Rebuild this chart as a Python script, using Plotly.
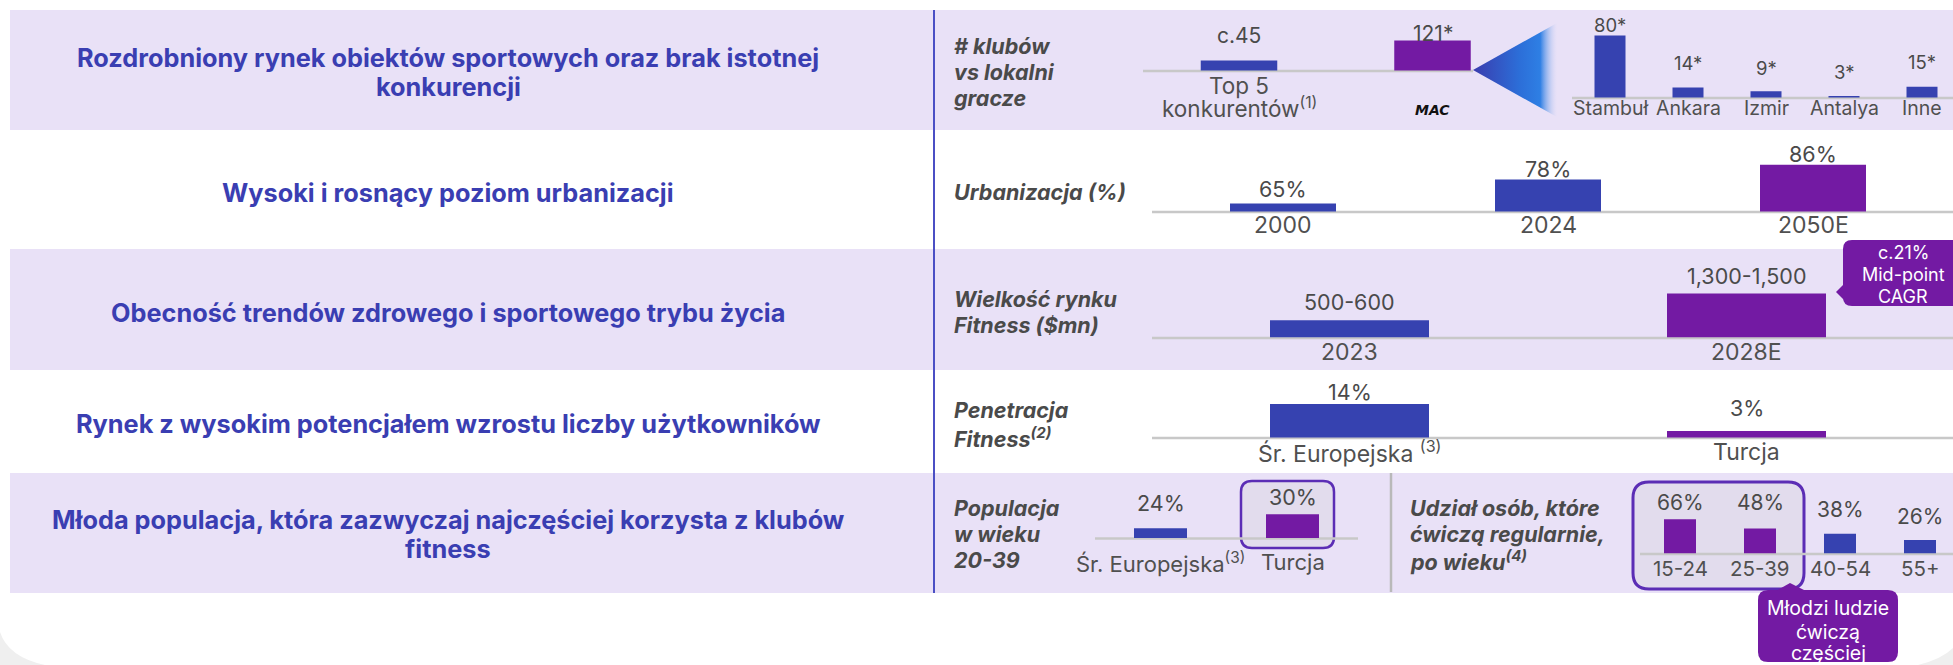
import plotly.graph_objects as go

W, H = 1953, 665

# ---------------- DATA ----------------
titles = [
    ["Rozdrobniony rynek obiektów sportowych oraz brak istotnej", "konkurencji"],
    ["Wysoki i rosnący poziom urbanizacji"],
    ["Obecność trendów zdrowego i sportowego trybu życia"],
    ["Rynek z wysokim potencjałem wzrostu liczby użytkowników"],
    ["Młoda populacja, która zazwyczaj najczęściej korzysta z klubów", "fitness"],
]
metric_names = [
    ["# klubów", "vs lokalni", "gracze"],
    ["Urbanizacja (%)"],
    ["Wielkość rynku", "Fitness ($mn)"],
    ["Penetracja", "Fitness<sup>(2)</sup>"],
    ["Populacja", "w wieku", "20-39"],
    ["Udział osób, które", "ćwiczą regularnie,", "po wieku<sup>(4)</sup>"],
]

club_cats = ["Top 5<br>konkurentów<sup>(1)</sup>", "MAC"]
club_vals = [45, 121]
club_labels = ["c.45", "121*"]

city_cats = ["Stambuł", "Ankara", "Izmir", "Antalya", "Inne"]
city_vals = [80, 14, 9, 3, 15]
city_labels = ["80*", "14*", "9*", "3*", "15*"]

urban_cats = ["2000", "2024", "2050E"]
urban_vals = [65, 78, 86]
urban_labels = ["65%", "78%", "86%"]

market_cats = ["2023", "2028E"]
market_vals = [550, 1400]
market_labels = ["500-600", "1,300-1,500"]

pen_cats = ["Śr. Europejska <sup>(3)</sup>", "Turcja"]
pen_vals = [14, 3]
pen_labels = ["14%", "3%"]

pop_cats = ["Śr. Europejska<sup>(3)</sup>", "Turcja"]
pop_vals = [24, 30]
pop_labels = ["24%", "30%"]

age_cats = ["15-24", "25-39", "40-54", "55+"]
age_vals = [66, 48, 38, 26]
age_labels = ["66%", "48%", "38%", "26%"]

cagr_note = ["c.21%", "Mid-point", "CAGR"]
young_note = ["Młodzi ludzie", "ćwiczą", "częściej"]

# ---------------- STYLE ----------------
BLUE = "#3642b0"
PURPLE = "#731aa3"
BAND = "#e9e1f7"
TITLE_C = "#3a3eb2"
GRAY_T = "#4a4a4a"
LINE_C = "#c8c8c8"
FONT = "Inter, Open Sans, sans-serif"


def px(x):
    return x / W


def py(y):
    return 1 - y / H


def rrect_path(x0, y0, x1, y1, r):
    pts = [
        ("M", [(x0 + r, y0)]), ("L", [(x1 - r, y0)]), ("Q", [(x1, y0), (x1, y0 + r)]),
        ("L", [(x1, y1 - r)]), ("Q", [(x1, y1), (x1 - r, y1)]), ("L", [(x0 + r, y1)]),
        ("Q", [(x0, y1), (x0, y1 - r)]), ("L", [(x0, y0 + r)]), ("Q", [(x0, y0), (x0 + r, y0)]),
    ]
    s = ""
    for cmd, ps in pts:
        s += cmd + " " + " ".join(f"{px(a):.6f},{py(b):.6f}" for a, b in ps) + " "
    return s + "Z"


def poly_path(points):
    s = "M " + " L ".join(f"{px(a):.6f},{py(b):.6f}" for a, b in points)
    return s + " Z"


shapes = []
annotations = []


def txt(x, y, text, size, color=GRAY_T, xanchor="center", family=FONT, **kw):
    annotations.append(dict(
        x=px(x), y=py(y), xref="paper", yref="paper", text=text, showarrow=False,
        xanchor=xanchor, yanchor="middle", font=dict(size=size, color=color, family=family), **kw))


# bands
for (y0, y1) in [(10, 130), (249, 370), (473, 593)]:
    shapes.append(dict(type="rect", xref="paper", yref="paper", x0=px(10), x1=1.01,
                       y0=py(y1), y1=py(y0), fillcolor=BAND, line=dict(width=0), layer="below"))

# bottom grey corners
shapes.append(dict(type="path", xref="paper", yref="paper", layer="below",
                   path=f"M {px(0)},{py(632)} Q {px(8)},{py(657)} {px(45)},{py(665)} L {px(0)},{py(665)} Z",
                   fillcolor="#efefef", line=dict(width=0)))
shapes.append(dict(type="path", xref="paper", yref="paper", layer="below",
                   path=f"M {px(1953)},{py(648)} Q {px(1942)},{py(659)} {px(1918)},{py(665)} L {px(1953)},{py(665)} Z",
                   fillcolor="#efefef", line=dict(width=0)))

# highlight boxes
shapes.append(dict(type="path", xref="paper", yref="paper", layer="below",
                   path=rrect_path(1241, 481, 1334, 548, 11), fillcolor="#e2dced",
                   line=dict(color="#5b2db5", width=2.5)))
shapes.append(dict(type="path", xref="paper", yref="paper", layer="below",
                   path=rrect_path(1633, 482, 1804, 589, 16), fillcolor="#e2dced",
                   line=dict(color="#5b2db5", width=3)))

# vertical divider lines
shapes.append(dict(type="line", xref="paper", yref="paper", x0=px(934), x1=px(934),
                   y0=py(10), y1=py(593), line=dict(color="#4b4fc4", width=2), layer="below"))
shapes.append(dict(type="line", xref="paper", yref="paper", x0=px(1391), x1=px(1391),
                   y0=py(473), y1=py(592), line=dict(color="#b9b9b9", width=2.5), layer="below"))

# titles
title_rows = [[57, 86], [193], [312], [423], [519, 548]]
for lines, ys in zip(titles, title_rows):
    for t, y in zip(lines, ys):
        txt(448, y, f"<b>{t}</b>", 25.3, TITLE_C)

# metric names
metric_pos = [(952, [46, 72, 98]), (952, [192]), (952, [299, 325]), (952, [410, 437]),
              (952, [508, 534, 560]), (1408, [508, 534, 560])]
for lines, (x, ys) in zip(metric_names, metric_pos):
    for t, y in zip(lines, ys):
        txt(x, y, f"<b><i>{t}</i></b>", 21.5, GRAY_T, xanchor="left")

# ---------------- BAR CHARTS ----------------
charts = [
    dict(cats=club_cats, vals=club_vals, labels=club_labels, colors=[BLUE, PURPLE],
         c0=1239, step=193.5, bw=76.5, base=70.5, top=10, k=0.263, v0=7,
         off=[25, 7], lx=(1143, 1473), caty=85, vsize=21, csize=22.5, lh=22),
    dict(cats=city_cats, vals=city_vals, labels=city_labels, colors=[BLUE] * 5,
         c0=1610, step=78, bw=31, base=97.5, top=12, k=0.787, v0=1.2,
         off=[10.5, 24, 23, 24, 25], lx=(1572, 1953), caty=108, vsize=18.5, csize=19.5, lh=22),
    dict(cats=urban_cats, vals=urban_vals, labels=urban_labels, colors=[BLUE, BLUE, PURPLE],
         c0=1283, step=265, bw=106, base=211.5, top=140, k=1.846, v0=60.7,
         off=[15, 11, 11], lx=(1152, 1953), caty=225, vsize=21.5, csize=23, lh=22),
    dict(cats=market_cats, vals=market_vals, labels=market_labels, colors=[BLUE, PURPLE],
         c0=1349.5, step=397, bw=159, base=337.5, top=260, k=0.0314, v0=0,
         off=[18, 18], lx=(1152, 1953), caty=352, vsize=21.5, csize=23, lh=22),
    dict(cats=pen_cats, vals=pen_vals, labels=pen_labels, colors=[BLUE, PURPLE],
         c0=1349.5, step=397, bw=159, base=437.5, top=380, k=2.45, v0=0.3,
         off=[12, 23], lx=(1152, 1953), caty=452, vsize=21.5, csize=23, lh=22),
    dict(cats=pop_cats, vals=pop_vals, labels=pop_labels, colors=[BLUE, PURPLE],
         c0=1160.5, step=132, bw=53, base=538, top=480, k=2.33, v0=19.8,
         off=[25, 17], lx=(1095, 1358), caty=562, vsize=21.5, csize=22, lh=22),
    dict(cats=age_cats, vals=age_vals, labels=age_labels, colors=[PURPLE, PURPLE, BLUE, BLUE],
         c0=1680, step=80, bw=32, base=553.5, top=490, k=0.52, v0=0,
         off=[17, 26, 24, 23], lx=(1640, 1953), caty=568, vsize=21, csize=20.5, lh=22),
]

fig = go.Figure()
layout_axes = {}
for i, ch in enumerate(charts, start=1):
    n = len(ch["vals"])
    xs = list(range(n))
    xa = "x" if i == 1 else f"x{i}"
    ya = "y" if i == 1 else f"y{i}"
    xkey = "xaxis" if i == 1 else f"xaxis{i}"
    ykey = "yaxis" if i == 1 else f"yaxis{i}"
    lx0, lx1 = ch["lx"]
    layout_axes[xkey] = dict(domain=[px(lx0), px(lx1)],
                             range=[(lx0 - ch["c0"]) / ch["step"], (lx1 - ch["c0"]) / ch["step"]],
                             visible=False, anchor=ya, fixedrange=True)
    layout_axes[ykey] = dict(domain=[py(ch["base"]), py(ch["top"])],
                             range=[ch["v0"], ch["v0"] + (ch["base"] - ch["top"]) / ch["k"]],
                             visible=False, anchor=xa, fixedrange=True)
    fig.add_trace(go.Bar(x=xs, y=ch["vals"], width=ch["bw"] / ch["step"],
                         marker=dict(color=ch["colors"], line=dict(width=0)),
                         xaxis=xa, yaxis=ya, hoverinfo="skip", showlegend=False))
    # baseline
    shapes.append(dict(type="line", xref="paper", yref="paper", x0=px(lx0), x1=px(lx1),
                       y0=py(ch["base"] + 0.5), y1=py(ch["base"] + 0.5),
                       line=dict(color=LINE_C, width=2.5), layer="below"))
    # value labels
    for j, (v, lab) in enumerate(zip(ch["vals"], ch["labels"])):
        annotations.append(dict(x=j, y=v, xref=xa, yref=ya, text=lab, showarrow=False,
                                xanchor="center", yanchor="middle", yshift=ch["off"][j],
                                font=dict(size=ch["vsize"], color=GRAY_T, family=FONT)))
    # category labels
    for j, cat in enumerate(ch["cats"]):
        if cat == "MAC":
            annotations.append(dict(x=j, y=py(110), xref=xa, yref="paper", text="<b><i>MAC</i></b>",
                                    showarrow=False, xanchor="center", yanchor="middle",
                                    font=dict(size=14, color="#111111", family="DejaVu Sans")))
            continue
        for li, line in enumerate(cat.split("<br>")):
            annotations.append(dict(x=j, y=py(ch["caty"] + li * ch["lh"]), xref=xa, yref="paper",
                                    text=line, showarrow=False, xanchor="center", yanchor="middle",
                                    font=dict(size=ch["csize"], color="#505050", family=FONT)))

# overlay axis for the gradient funnel
layout_axes["xaxis8"] = dict(domain=[0, 1], range=[0, W], visible=False, anchor="y8", fixedrange=True)
layout_axes["yaxis8"] = dict(domain=[0, 1], range=[H, 0], visible=False, anchor="x8", fixedrange=True)
fig.add_trace(go.Scatter(
    x=[1473, 1557, 1557, 1473], y=[70, 23, 117, 70], fill="toself", mode="none",
    fillgradient=dict(type="horizontal", start=1473, stop=1557,
                      colorscale=[[0, "#3a3cae"], [0.55, "#2c6ed8"], [0.8, "#2e7fe4"],
                                  [1, "rgba(233,225,247,0.2)"]]),
    xaxis="x8", yaxis="y8", hoverinfo="skip", showlegend=False))

# callouts
shapes.append(dict(type="path", xref="paper", yref="paper", layer="above",
                   path=rrect_path(1843, 240, 1975, 306, 9), fillcolor=PURPLE, line=dict(width=0)))
shapes.append(dict(type="path", xref="paper", yref="paper", layer="above",
                   path=poly_path([(1844, 284), (1836, 292), (1844, 300)]), fillcolor=PURPLE, line=dict(width=0)))
for t, y in zip(cagr_note, [252, 274, 296]):
    txt(1903, y, t, 18, "white")

shapes.append(dict(type="path", xref="paper", yref="paper", layer="above",
                   path=rrect_path(1758, 590, 1898, 662, 10), fillcolor=PURPLE, line=dict(width=0)))
shapes.append(dict(type="path", xref="paper", yref="paper", layer="above",
                   path=poly_path([(1776, 591), (1790, 583), (1806, 591)]), fillcolor=PURPLE, line=dict(width=0)))
for t, y in zip(young_note, [608, 632, 653]):
    txt(1828, y, t, 19.5, "white")

fig.update_layout(
    width=W, height=H, margin=dict(l=0, r=0, t=0, b=0),
    paper_bgcolor="white", plot_bgcolor="rgba(0,0,0,0)",
    shapes=shapes, annotations=annotations, showlegend=False, barmode="overlay",
    **layout_axes,
)

fig.write_html("out.html", config={"displayModeBar": False},
               post_script="document.body.style.margin='0';document.body.style.overflow='hidden';")
